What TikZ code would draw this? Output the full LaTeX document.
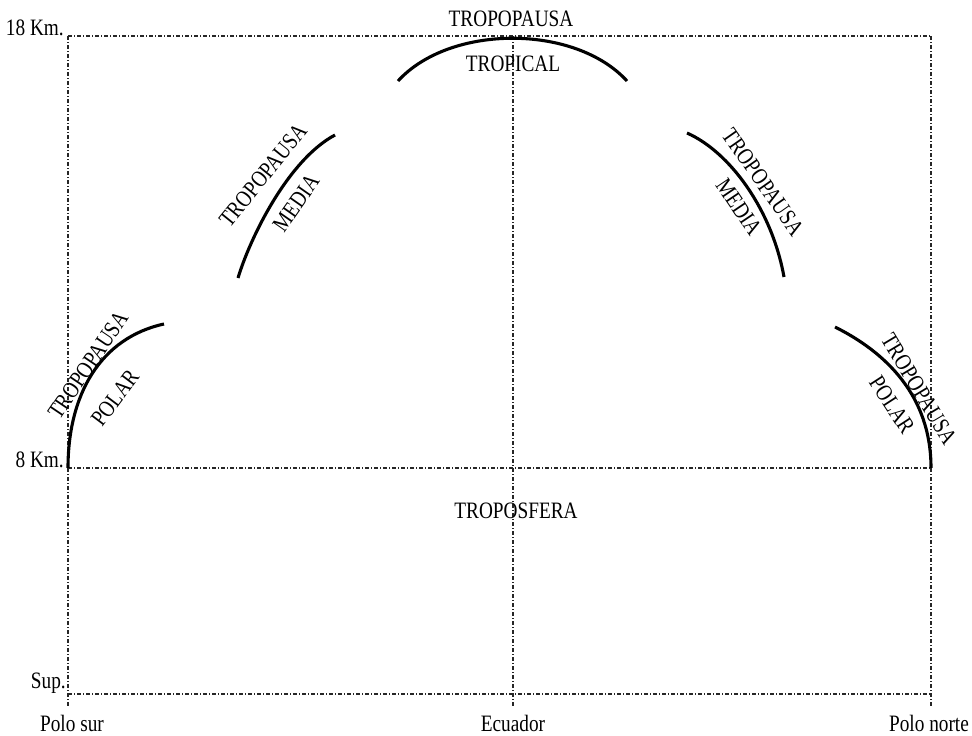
\documentclass[tikz,border=0pt]{standalone}
\usepackage{fontspec}
\setmainfont[FakeStretch=0.82]{Liberation Serif}
\begin{document}
\begin{tikzpicture}[x=1pt,y=-1pt,
  grid/.style={line width=1.2pt, black!85, dash pattern=on 4pt off 2pt on 1pt off 2pt},
  arcline/.style={line width=3.1pt, black},
  lbl/.style={inner sep=0pt, font=\fontsize{23.5}{25}\selectfont}]
\useasboundingbox (0,0) rectangle (972,736);
% frame coordinates
\coordinate (TL) at (68,36);
\coordinate (TC) at (513,36);
\coordinate (TR) at (931,36);
\coordinate (ML) at (68,468);
\coordinate (MR) at (931,468);
\coordinate (SL) at (68,694);
\coordinate (SR) at (931,694);
\coordinate (BL) at (68,706);
\coordinate (BC) at (513,706);
\coordinate (BR) at (931,706);
% dash-dot grid
\draw[grid] (TL) -- (TR);
\draw[grid] (ML) -- (MR);
\draw[grid] (SL) -- (SR);
\draw[grid] (TL) -- (BL);
\draw[grid] (TC) -- (BC);
\draw[grid] (TR) -- (BR);
% tropopause curves
\coordinate (tropA) at (398,81);
\coordinate (tropB) at (627,81);
\draw[arcline] (tropA) .. controls (450,24) and (575,24) .. (tropB);
\coordinate (mlA) at (238,278);
\coordinate (mlB) at (335,135);
\draw[arcline] (mlA) .. controls (250,238) and (288,160) .. (mlB);
\coordinate (mrA) at (687,133);
\coordinate (mrB) at (784,277);
\draw[arcline] (mrA) .. controls (730,152) and (772,210) .. (mrB);
\coordinate (plB) at (164,324);
\draw[arcline] (ML) .. controls (68,395) and (100,338) .. (plB);
\coordinate (prA) at (835,327);
\draw[arcline] (prA) .. controls (885,352) and (931,395) .. (MR);
% axis labels
\node[lbl, anchor=east] (k18) at (64,28) {18 Km.};
\node[lbl, anchor=east] (k8) at (64,460) {8 Km.};
\node[lbl, anchor=east] (sup) at (66,683) {Sup.};
\node[lbl] (psur) at (72,723) {Polo sur};
\node[lbl] (ecu) at (513,723) {Ecuador};
\node[lbl] (pnorte) at (929,723) {Polo norte};
% region labels
\node[lbl] (ttop) at (511,19) {TROPOPAUSA};
\node[lbl] (ttrop) at (513,64) {TROPICAL};
\node[lbl] (tsfera) at (516,511) {TROPOSFERA};
\node[lbl, rotate=56] (lp1) at (88,365) {TROPOPAUSA};
\node[lbl, rotate=53] (lp2) at (115,398) {POLAR};
\node[lbl, rotate=51] (lm1) at (263,175) {TROPOPAUSA};
\node[lbl, rotate=55] (lm2) at (296,203) {MEDIA};
\node[lbl, rotate=-55] (rm1) at (763,182) {TROPOPAUSA};
\node[lbl, rotate=-56] (rm2) at (739,207) {MEDIA};
\node[lbl, rotate=-59] (rp1) at (919,389) {TROPOPAUSA};
\node[lbl, rotate=-57] (rp2) at (892,405) {POLAR};
\end{tikzpicture}
\end{document}
